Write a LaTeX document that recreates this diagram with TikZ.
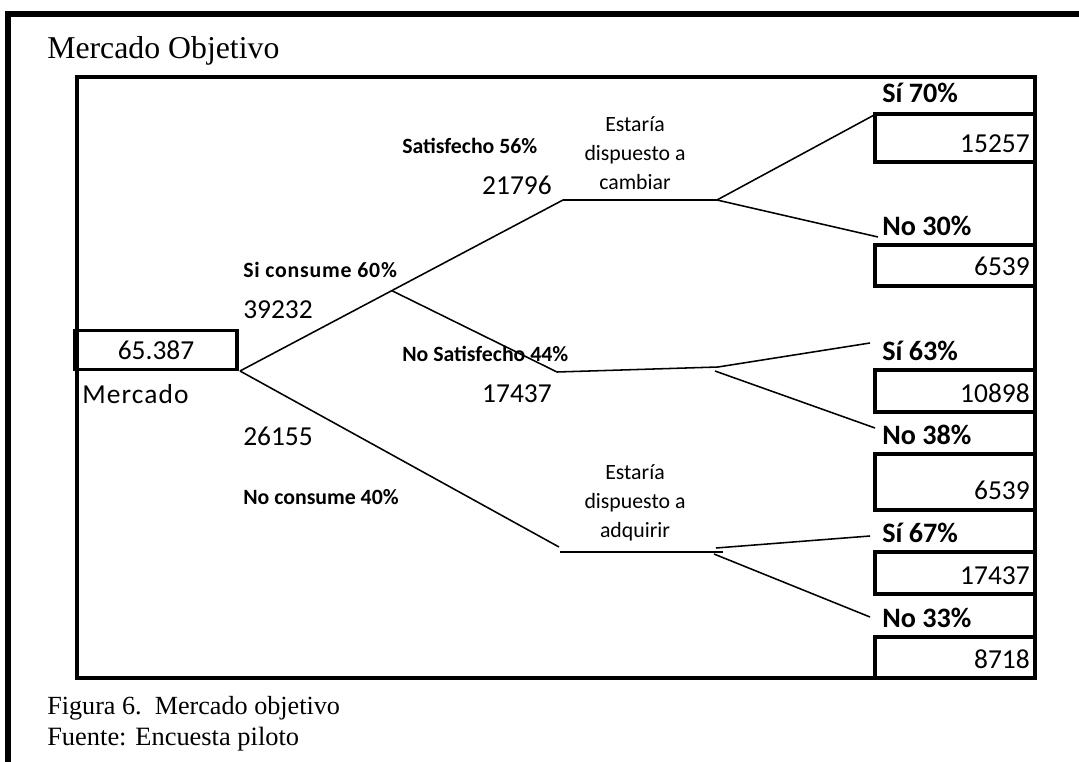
\documentclass[tikz,border=0pt]{standalone}
\usepackage{fontspec}
\setmainfont{Liberation Serif}
\newfontfamily\calibri{Carlito}
\newfontfamily\calibrisp[LetterSpace=3.6]{Carlito}
\newfontfamily\calibrimer[LetterSpace=4]{Carlito}
\usetikzlibrary{calc}

\begin{document}
\begin{tikzpicture}[x=0.025cm, y=-0.025cm,
	box/.style={draw, line width=2.6pt, inner sep=0pt},
	rama/.style={line width=1.1pt},
	num/.style={font=\calibri\fontsize{19.5}{23}\selectfont, inner sep=0pt},
	pct/.style={font=\calibri\bfseries\fontsize{15.5}{18}\selectfont, inner sep=0pt, anchor=base west},
	resp/.style={font=\calibri\bfseries\fontsize{20}{24}\selectfont, inner sep=0pt, anchor=base west},
	pregunta/.style={font=\calibri\fontsize{15.5}{20.5}\selectfont, align=center, inner sep=0pt}]
	\useasboundingbox (0,0) rectangle (1079,762);
	% marcos
	\draw[line width=3.6pt] (8,762) -- (8,14) -- (1079,14);
	\draw[line width=2.3pt] (77,77) rectangle (1035,678);
	\node[anchor=base west, inner sep=0pt, font=\fontsize{22.6}{26}\selectfont] (titulo) at (47,59) {Mercado Objetivo};
	\node[anchor=base west, inner sep=0pt, font=\fontsize{18.6}{22}\selectfont] (figura) at (47,714) {Figura 6.\ \ Mercado objetivo};
	\node[anchor=base west, inner sep=0pt, font=\fontsize{18.8}{22}\selectfont] (fuente) at (47,745) {Fuente: Encuesta piloto};
	% mercado total
	\node[box, num, minimum width=4.05cm, minimum height=0.975cm] (total) at (156,350) {65.387};
	\node[num, font=\calibrimer\fontsize{19.5}{23}\selectfont, anchor=base west] (mercado) at (82,403) {Mercado};
	% cajas de resultados
	\node[box, minimum width=4cm, minimum height=1.2cm] (b1) at (955,138) {};
	\node[box, minimum width=4cm, minimum height=1.025cm] (b2) at (955,265.5) {};
	\node[box, minimum width=4cm, minimum height=1.05cm] (b3) at (955,391) {};
	\node[box, minimum width=4cm, minimum height=1.4cm] (b4) at (955,482) {};
	\node[box, minimum width=4cm, minimum height=1.05cm] (b5) at (955,573) {};
	\node[box, minimum width=4cm, minimum height=1.025cm] (b6) at (955,657.5) {};
	\node[num, anchor=base east] (v1) at (1030,152) {15257};
	\node[num, anchor=base east] (v2) at (1030,275) {6539};
	\node[num, anchor=base east] (v3) at (1030,402) {10898};
	\node[num, anchor=base east] (v4) at (1030,499) {6539};
	\node[num, anchor=base east] (v5) at (1030,584) {17437};
	\node[num, anchor=base east] (v6) at (1030,668) {8718};
	\node[resp] (si1) at (882,103) {Sí 70\%};
	\node[resp] (no1) at (882,235) {No 30\%};
	\node[resp] (si2) at (882,360) {Sí 63\%};
	\node[resp] (no2) at (882,444) {No 38\%};
	\node[resp] (si3) at (882,542) {Sí 67\%};
	\node[resp] (no3) at (882,627) {No 33\%};
	% textos de las ramas
	\node[pct, font=\calibrisp\bfseries\fontsize{15.5}{18}\selectfont] (consume) at (243,277) {Si consume 60\%};
	\node[num, anchor=base west] (nconsume) at (243,318) {39232};
	\node[num, anchor=base west] (nnoconsume) at (243,445) {26155};
	\node[pct] (noconsume) at (243,504) {No consume 40\%};
	\node[pct] (satis) at (402,153) {Satisfecho 56\%};
	\node[num, anchor=base east] (nsatis) at (552,194) {21796};
	\node[pct] (nosatis) at (402,361) {No Satisfecho 44\%};
	\node[num, anchor=base east] (nnosatis) at (552,402) {17437};
	\node[pregunta] (cambiar) at (635,153) {Estaría\\dispuesto a\\cambiar};
	\node[pregunta] (adquirir) at (635,503) {Estaría\\dispuesto a\\adquirir};
	% puntos del arbol
	\coordinate (r0) at (240,371);
	\coordinate (s1) at (563,200);
	\coordinate (k1) at ($(r0)!0.47!(s1)$);
	\coordinate (s2) at (717,200);
	\coordinate (ns1) at (557,372);
	\coordinate (ns2) at (718,367);
	\coordinate (ns3) at (715,371);
	\coordinate (nc1) at (559,547);
	\coordinate (nc2) at (560,552);
	\coordinate (nc3) at (723,552);
	\coordinate (nc4) at (716,548);
	\coordinate (nc5) at (714,554);
	\coordinate (e1) at (876,114);
	\coordinate (e2) at (878,237);
	\coordinate (e3) at (870,343);
	\coordinate (e4) at (875,428);
	\coordinate (e5) at (870,536);
	\coordinate (e6) at (870,617);
	% ramas
	\draw[rama] (r0) -- (s1) -- (s2);
	\draw[rama] (s2) -- (e1);
	\draw[rama] (s2) -- (e2);
	\draw[rama] (k1) -- (ns1) -- (ns2) -- (e3);
	\draw[rama] (ns3) -- (e4);
	\draw[rama] (r0) -- (nc1);
	\draw[rama] (nc2) -- (nc3);
	\draw[rama] (nc4) -- (e5);
	\draw[rama] (nc5) -- (e6);
\end{tikzpicture}
\end{document}
